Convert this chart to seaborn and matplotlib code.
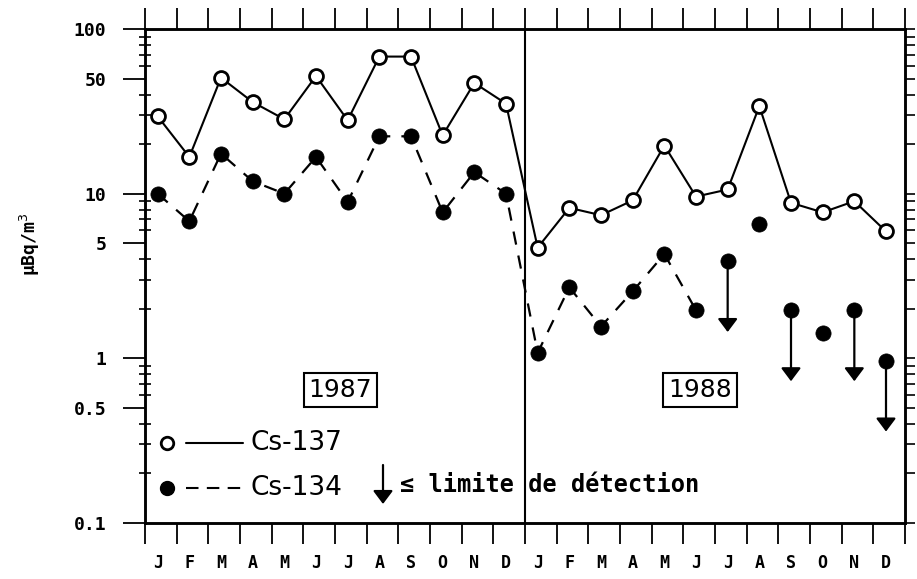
import numpy as np
import pandas as pd
import matplotlib
matplotlib.use("Agg")
import matplotlib.pyplot as plt
import matplotlib.ticker as mticker
import seaborn as sns

# Monthly values (Jan 1987 - Dec 1988), in µBq/m3
month_labels = ['J', 'F', 'M', 'A', 'M', 'J', 'J', 'A', 'S', 'O', 'N', 'D',
                'J', 'F', 'M', 'A', 'M', 'J', 'J', 'A', 'S', 'O', 'N', 'D']
cs137 = [29.5, 16.7, 50.6, 36, 28.3, 51.8, 27.9, 68, 68, 22.6, 47, 35.2,
         4.7, 8.2, 7.4, 9.1, 19.6, 9.6, 10.6, 34, 8.8, 7.7, 9.0, 5.9]
cs134 = [10, 6.8, 17.5, 11.9, 10, 16.7, 8.9, 22.3, 22.3, 7.7, 13.5, 10,
         1.08, 2.7, 1.56, 2.55, 4.3, 1.96, 3.9, 6.5, 1.96, 1.42, 1.96, 0.97]
# True where the Cs-134 value is only a detection limit (arrow down)
cs134_limit = [False] * 12 + [False, False, False, False, False, False,
                              True, False, True, False, True, True]
# months joined by the dashed line (continuous Cs-134 series)
cs134_joined = [True] * 18 + [False] * 6

df = pd.DataFrame({'month': np.arange(len(month_labels)), 'cs137': cs137,
                   'cs134': cs134, 'limit': cs134_limit, 'joined': cs134_joined})

sns.set_theme(style='white')
plt.rcParams['font.family'] = ['DejaVu Sans']
plt.rcParams['text.color'] = 'black'
plt.rcParams['xtick.color'] = 'black'
plt.rcParams['ytick.color'] = 'black'
plt.rcParams['axes.labelcolor'] = 'black'

fig = plt.figure(figsize=(9.17, 5.79), dpi=100)
ax = fig.add_axes([145 / 917, 1 - 523 / 579, 760 / 917, 494 / 579])

# Cs-137: open circles, solid line
sns.lineplot(data=df, x='month', y='cs137', ax=ax, color='black', lw=1.5,
             marker='o', markersize=10, markerfacecolor='white',
             markeredgecolor='black', markeredgewidth=2, zorder=3)

# Cs-134: filled circles, dashed line for the continuous part
joined = df[df['joined']]
sns.lineplot(data=joined, x='month', y='cs134', ax=ax, color='black', lw=1.6,
             dashes=False, linestyle=(0, (6, 5)), zorder=2)
sns.scatterplot(data=df, x='month', y='cs134', ax=ax, color='black', s=120,
                edgecolor='black', linewidth=0.5, zorder=4)

# detection-limit arrows
for _, r in df[df['limit']].iterrows():
    ax.annotate('', xy=(r['month'], r['cs134'] / 2.7), xytext=(r['month'], r['cs134']),
                arrowprops=dict(arrowstyle='-|>,head_length=0.4,head_width=0.3',
                                mutation_scale=20, lw=1.6, color='black',
                                shrinkA=0, shrinkB=0), zorder=3)

ax.set_yscale('log')
ax.set_ylim(0.1, 100)
ax.set_xlim(-0.4, 23.6)

# divider between the two years
ax.axvline(11.6, color='black', lw=1.5, zorder=1)

# x ticks: month boundaries as tick marks, labels at the month points
ax.set_xticks(np.arange(25) - 0.4)
ax.set_xticklabels([])
ax.set_xticks(df['month'], minor=True)
ax.set_xticklabels(month_labels, minor=True, family='DejaVu Sans Mono',
                   fontweight='bold', fontsize=12)
ax.tick_params(axis='x', which='major', direction='out', length=15, width=1.3,
               top=True, bottom=True, color='black')
ax.tick_params(axis='x', which='minor', length=0, pad=22)

# y ticks
ax.yaxis.set_major_locator(mticker.FixedLocator([0.1, 0.5, 1, 5, 10, 50, 100]))
ax.yaxis.set_major_formatter(mticker.FixedFormatter(['0.1', '0.5', '1', '5', '10', '50', '100']))
ax.yaxis.set_minor_locator(mticker.LogLocator(base=10, subs=np.arange(2, 10)))
ax.yaxis.set_minor_formatter(mticker.NullFormatter())
ax.tick_params(axis='y', which='major', direction='out', length=16, width=1.3,
               color='black', pad=12, left=True)
ax.tick_params(axis='y', which='minor', direction='inout', length=8, width=1.2,
               color='black', left=True)
for lab in ax.get_yticklabels():
    lab.set_family('DejaVu Sans Mono')
    lab.set_fontweight('bold')
    lab.set_fontsize(13)

# right-hand ticks pointing outward
ax2 = ax.twinx()
ax2.set_yscale('log')
ax2.set_ylim(0.1, 100)
ax2.yaxis.set_major_locator(mticker.FixedLocator([0.1, 0.5, 1, 5, 10, 50, 100]))
ax2.yaxis.set_minor_locator(mticker.LogLocator(base=10, subs=np.arange(2, 10)))
ax2.yaxis.set_major_formatter(mticker.NullFormatter())
ax2.yaxis.set_minor_formatter(mticker.NullFormatter())
ax2.tick_params(axis='y', which='both', direction='out', length=7, width=1.2,
                color='black', right=True)
ax2.grid(False)

for a in (ax, ax2):
    for s in a.spines.values():
        s.set_color('black')
        s.set_linewidth(1.8)

ax.set_xlabel('')
ax.set_ylabel('')
fig.text(30 / 917, 1 - 244 / 579, 'µBq/m$^{3}$', rotation=90, ha='center', va='center',
         family='DejaVu Sans Mono', fontweight='bold', fontsize=13)

# year boxes
box = dict(boxstyle='square,pad=0.2', facecolor='white', edgecolor='black', lw=1.5)
ax.text(0.257, 0.27, '1987', transform=ax.transAxes, ha='center', va='center',
        fontsize=18, color='black', bbox=box)
ax.text(0.730, 0.27, '1988', transform=ax.transAxes, ha='center', va='center',
        fontsize=18, color='black', bbox=box)

# hand-drawn legend
def fx(px):
    return (px - 145) / 760

def fy(py):
    return (523 - py) / 494

ax.plot([fx(167)], [fy(443)], transform=ax.transAxes, marker='o', ms=9,
        mfc='white', mec='black', mew=2, color='black')
ax.plot([fx(186), fx(243)], [fy(443)] * 2, transform=ax.transAxes, color='black', lw=1.5)
ax.text(fx(250), fy(443), 'Cs-137', transform=ax.transAxes, ha='left', va='center',
        fontsize=19, color='black')
ax.plot([fx(167)], [fy(488)], transform=ax.transAxes, marker='o', ms=10,
        color='black')
ax.plot([fx(186), fx(243)], [fy(488)] * 2, transform=ax.transAxes, color='black',
        lw=1.5, linestyle=(0, (6, 4)))
ax.text(fx(250), fy(488), 'Cs-134', transform=ax.transAxes, ha='left', va='center',
        fontsize=19, color='black')
ax.annotate('', xy=(fx(383), fy(504)), xytext=(fx(383), fy(465)),
            xycoords='axes fraction', textcoords='axes fraction',
            arrowprops=dict(arrowstyle='-|>,head_length=0.4,head_width=0.3',
                            mutation_scale=20, lw=1.6, color='black',
                            shrinkA=0, shrinkB=0))
ax.text(fx(400), fy(485), '≤ limite de détection', transform=ax.transAxes,
        ha='left', va='center', fontsize=17, family='DejaVu Sans Mono',
        fontweight='bold', color='black')

fig.savefig('out.png', dpi=100, facecolor='white')
